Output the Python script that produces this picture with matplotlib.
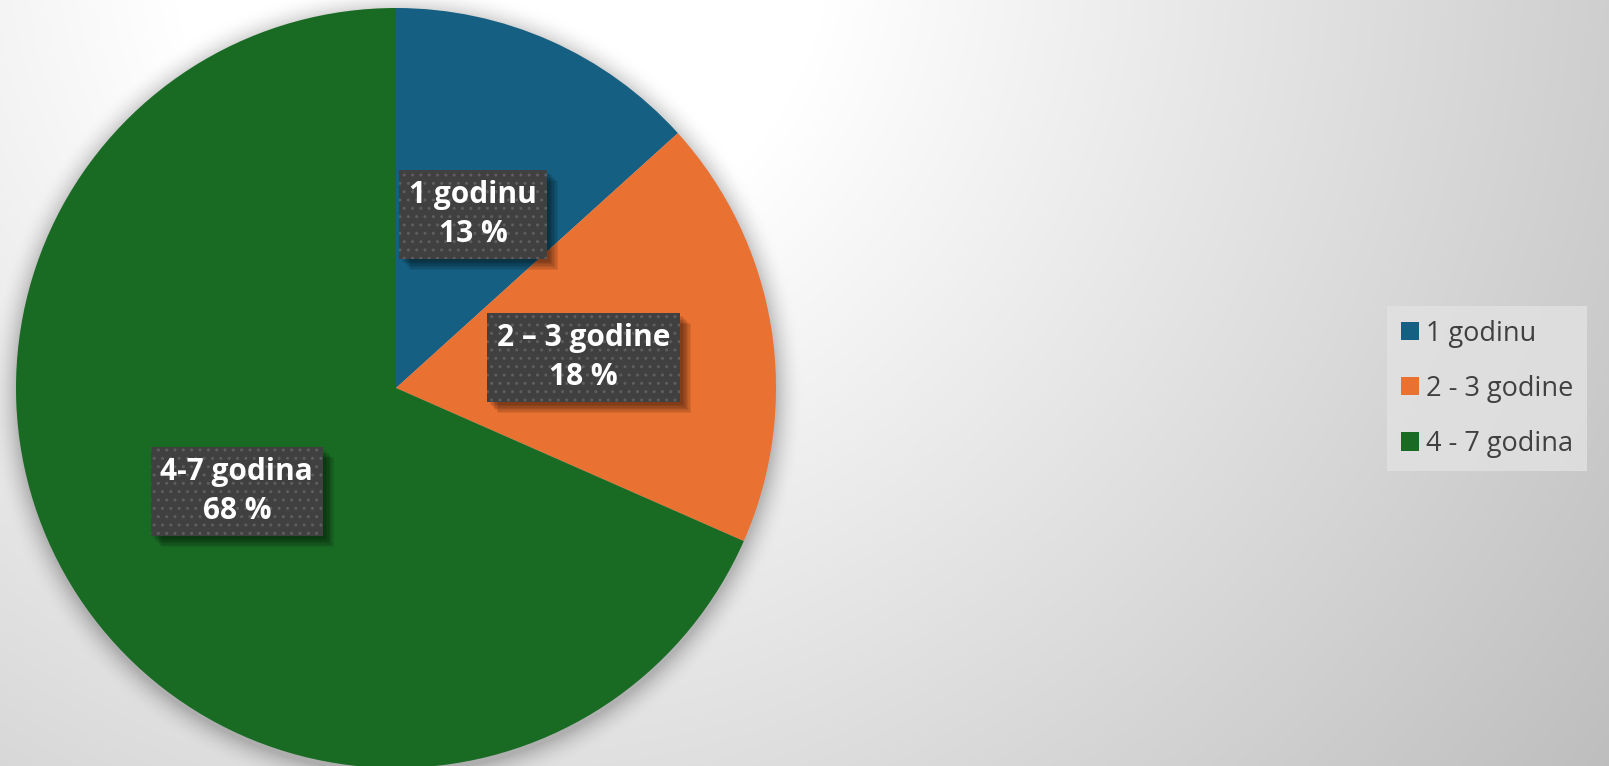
import numpy as np
import matplotlib.pyplot as plt
import matplotlib.patheffects as pe

# data
categories = ['1 godinu', '2 - 3 godine', '4 - 7 godina']
slice_labels = ['1 godinu', '2 – 3 godine', '4-7 godina']
shares = [13.3, 18.3, 68.4]
colors = ['#156082', '#E97132', '#196B24']

W, H = 1609, 766
cx, cy, r = 396, H - 388, 380

fig = plt.figure(figsize=(W / 100, H / 100), dpi=100)
ax = fig.add_axes([0, 0, 1, 1])

# background: radial grey gradient + soft halo round the pie
yy, xx = np.mgrid[0:H, 0:W]
d = np.hypot(xx - 500, yy + 60)
val = 255 - 0.062 * np.clip(d - 330, 0, None)
dp = np.hypot(xx - cx, (H - yy) - cy + 4)
halo = 0.22 * np.clip(1 - (dp - r) / 28, 0, 1) ** 2
val = val * (1 - halo)
bg = np.clip(val, 0, 255) / 255
ax.imshow(np.dstack([bg, bg, bg]), extent=(0, W, 0, H), origin='upper', zorder=0)

pie_labels = [f'{n}\n{round(v)} %' for n, v in zip(slice_labels, shares)]
text_style = dict(fontsize=21.5, fontweight='bold', family='Open Sans', linespacing=1.4,
                  ha='center', va='center', multialignment='center')
wedges, texts = ax.pie(shares, colors=colors, startangle=90, counterclock=False,
                       center=(cx, cy), radius=r, labels=pie_labels, labeldistance=0.5,
                       wedgeprops=dict(linewidth=0, zorder=2),
                       textprops=dict(color='white', **text_style))
shadow = [pe.SimplePatchShadow(offset=(o, -o), shadow_rgbFace='black', alpha=0.08)
          for o in (2, 3, 4, 5, 6, 7, 8)]
for t in texts:
    t.set_zorder(5)
    t.set_bbox(dict(boxstyle='square,pad=0.33', facecolor='#404040', edgecolor='#5e5e5e',
                    linewidth=0, hatch='..'))
    # plain copy underneath that carries the soft shadow
    sh = ax.text(*t.get_position(), t.get_text(), color='none', zorder=4, **text_style,
                 bbox=dict(boxstyle='square,pad=0.33', facecolor='#404040', linewidth=0))
    sh.get_bbox_patch().set_path_effects(shadow + [pe.Normal()])

leg = ax.legend(wedges, categories, loc='upper left', bbox_to_anchor=(1387 / W, 1 - 306 / H),
                borderaxespad=0, frameon=True, fancybox=False, facecolor='#e2e2e2',
                edgecolor='none', framealpha=0.8, prop=dict(family='Open Sans', size=19.5),
                handlelength=0.68, handleheight=0.68, handletextpad=0.25,
                labelspacing=1.0, borderpad=0.5)
for txt in leg.get_texts():
    txt.set_color('#404040')

ax.set_xlim(0, W)
ax.set_ylim(0, H)
ax.set_aspect('equal')
ax.axis('off')

fig.savefig('out.png', dpi=100)
